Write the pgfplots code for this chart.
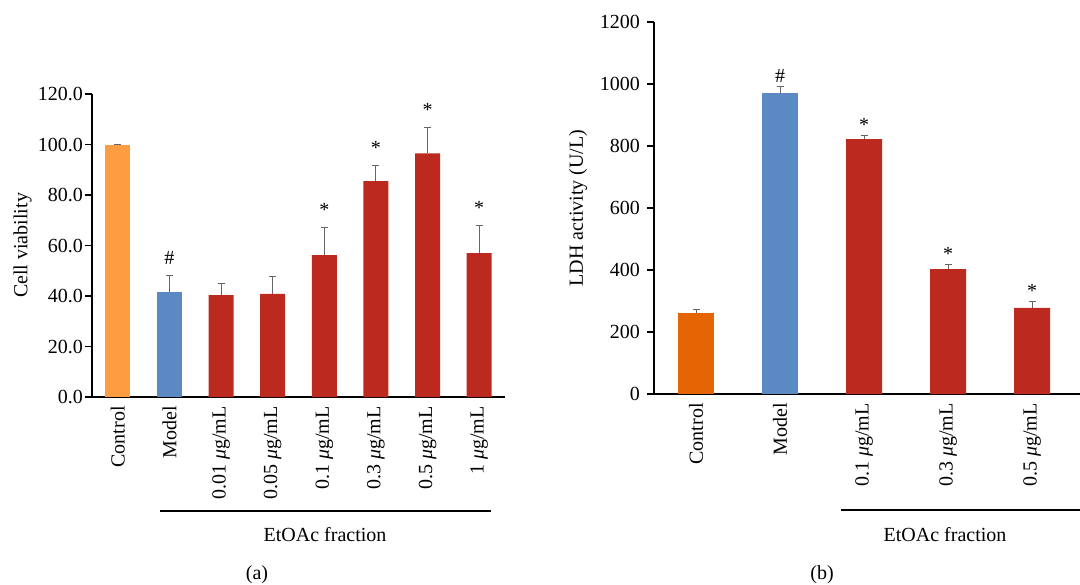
\documentclass[border=0pt]{standalone}
\usepackage{fontspec}
\setmainfont{Liberation Serif}
\usepackage{pgfplots}
\pgfplotsset{compat=1.18}

\definecolor{ctrlA}{HTML}{FB9D40}
\definecolor{ctrlB}{HTML}{E56505}
\definecolor{modelblue}{HTML}{5B89C4}
\definecolor{etred}{HTML}{BC2A1F}
\definecolor{errgray}{HTML}{666666}

\pgfplotsset{
  barpanel/.style={
    scale only axis,
    anchor=south west,
    axis lines=left,
    axis line style={-, line width=0.6pt},
    tick align=outside,
    xtick style={draw=none},
    ytick style={line width=0.6pt, black},
    major tick length=3.5pt,
    xticklabel style={rotate=90, anchor=east, inner sep=1pt},
    /pgf/number format/assume math mode=true,
    /pgf/number format/1000 sep={},
    ymin=0,
    clip=false,
  },
  bar/.style={ybar, bar shift=0pt, draw=none, fill=#1,
    error bars/.cd, y dir=plus, y explicit,
    error bar style={errgray, line width=0.5pt},
    error mark options={errgray, line width=0.5pt, mark size=1.75pt, rotate=90}},
  signif/.style={draw=none, mark=none, nodes near coords,
    point meta=explicit symbolic,
    every node near coord/.append style={anchor=base, yshift=#1, inner sep=0pt}},
}

\begin{document}
\begin{tikzpicture}
\path[use as bounding box] (0,0) rectangle (540pt,292pt);

% (a) cell viability
\begin{axis}[barpanel,
  at={(46pt,93.5pt)}, width=206.5pt, height=151.5pt,
  xmin=-0.5, xmax=7.5, ymax=120,
  bar width=12.5pt,
  ytick={0,20,...,120},
  yticklabel style={xshift=2.5pt, /pgf/number format/.cd, fixed, fixed zerofill, precision=1},
  xtick={0,...,7},
  xticklabels={Control, Model, 0.01 \textit{μ}g/mL, 0.05 \textit{μ}g/mL,
    0.1 \textit{μ}g/mL, 0.3 \textit{μ}g/mL, 0.5 \textit{μ}g/mL, 1 \textit{μ}g/mL},
  ylabel={Cell viability},
  ylabel style={at={(axis description cs:-0.168,0.5)}, anchor=center},
]
\addplot[bar=ctrlA] coordinates {(0,99.7) +- (0,0.3)};
\addplot[bar=modelblue] coordinates {(1,41.6) +- (0,6.6)};
\addplot[bar=etred] coordinates {
  (2,40.3) +- (0,4.5)
  (3,40.8) +- (0,6.9)
  (4,56.2) +- (0,10.9)
  (5,85.5) +- (0,6.3)
  (6,96.5) +- (0,10.2)
  (7,57.0) +- (0,11.1)
};
\addplot[signif=5.5pt] coordinates {
  (1,48.2) [\#]
  (4,67.1) [*]
  (5,91.8) [*]
  (6,106.7) [*]
  (7,68.1) [*]
};
\end{axis}

% (b) LDH activity
\begin{axis}[barpanel,
  at={(327pt,95pt)}, width=213pt, height=186pt,
  xmin=-0.5, xmax=4.57, ymax=1200,
  bar width=18pt,
  ytick={0,200,...,1200},
  xtick={0,...,4},
  xticklabels={Control, Model, 0.1 \textit{μ}g/mL, 0.3 \textit{μ}g/mL, 0.5 \textit{μ}g/mL},
  ylabel={LDH activity (U/L)},
  ylabel style={at={(axis description cs:-0.178,0.5)}, anchor=center},
]
\addplot[bar=ctrlB] coordinates {(0,260) +- (0,11)};
\addplot[bar=modelblue] coordinates {(1,970) +- (0,22)};
\addplot[bar=etred] coordinates {
  (2,822) +- (0,13)
  (3,403) +- (0,15)
  (4,278) +- (0,22)
};
\addplot[signif=2pt] coordinates {
  (1,992) [\#]
  (2,835) [*]
  (3,418) [*]
  (4,300) [*]
};
\end{axis}

% group brackets and panel letters
\draw[line width=0.6pt] (80pt,36.5pt) -- (245.5pt,36.5pt);
\node at (162.5pt,24.5pt) {EtOAc fraction};
\node at (128.5pt,4.5pt) {(a)};
\draw[line width=0.6pt] (420.5pt,37pt) -- (540pt,37pt);
\node at (472.5pt,24.5pt) {EtOAc fraction};
\node at (411pt,4.5pt) {(b)};
\end{tikzpicture}
\end{document}
